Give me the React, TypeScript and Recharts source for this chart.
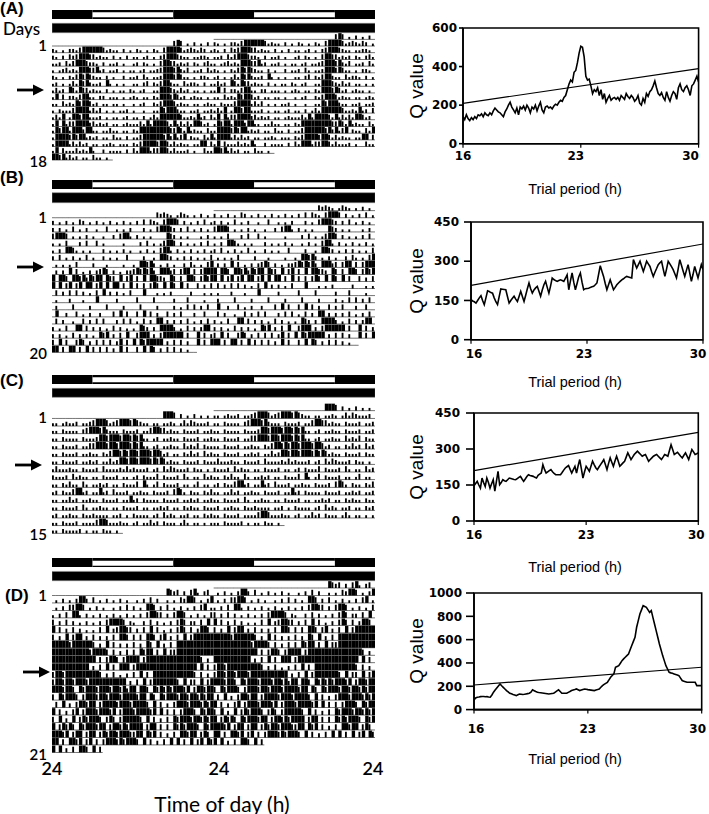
import React from 'react';
import { ScatterChart, Scatter, XAxis, YAxis, ReferenceArea, LineChart, Line } from 'recharts';

// ---------- actogram data: one string per day, 48 half-hour bins, activity level 0-4 ----------
const actoA = [
  '000000 000000 000000 000000 000000 000000 343010 201020',
  '210102 213444 444312 110201 021010 210344 443123 213201',
  '210203 234443 312110 201020 110120 102344 432110 112210',
  '112031 344432 210201 120100 120210 103443 312120 210231',
  '101231 214443 341201 120101 101201 123444 342130 112031',
  '210102 134343 211020 100201 120310 112444 343110 102210',
  '120101 314342 112041 010100 110230 213442 110312 210201',
  '131204 314331 211020 101102 101200 114443 213120 110101',
  '140302 213441 102201 110101 210110 214443 431201 211010',
  '110312 143443 120110 110100 101200 213444 312110 110121',
  '102111 344441 313010 101120 100100 114344 421101 120112',
  '131401 443441 112010 110120 110201 314444 443112 141203',
  '140413 344442 312120 110121 113141 444431 413131 443120',
  '143441 444244 110113 110110 214444 444443 343141 211031',
  '144443 434412 120110 311020 113444 444342 413402 110314',
  '144441 313120 110112 101110 213444 434431 312110 114403',
  '140311 131214 100201 111020 314441 334431 311120 100311',
  '443413 120110 311010',
];

const actoB = [
  '000000 000000 000000 000000 000000 032321 013210 102010',
  '201020 103201 020102 010201 020303 210344 430201 020301',
  '202010 301020 010030 010102 000201 034443 202030 102010',
  '344430 101020 100100 203441 020101 000043 201010 001020',
  '101030 002030 030100 000100 002030 101344 302010 102030',
  '102044 310101 000201 010201 001020 103441 020102 010201',
  '203010 201030 100201 010030 000200 104432 010202 010103',
  '010101 030000 200010 000100 104434 201020 100203 101034',
  '020204 030102 023430 201022 343434 204442 303440 303444',
  '404430 443424 344043 304034 030404 433204 303044 303434',
  '404034 034044 034040 440304 030303 430404 304030 030203',
  '030203 030201 030402 020103 000400 010102 000002 000101',
  '010002 000100 040000 020000 030000 300000 200030 000100',
  '020000 300002 000030 000200 003000 020000 201030 302030',
  '040020 030102 002000 304030 030403 020030 203000 200300',
  '030200 100302 030300 020303 010302 044020 202030 102030',
  '201030 044030 202010 302010 104320 204444 201030 202440',
  '202010 302020 104340 203040 034440 203444 444030 040302',
  '304030 034302 030303 024030 404344 444020 303020 040304',
  '440304 403040 303030 204030 030404 302030 302010 0',
];

const actoC = [
  '000000 000000 000000 000000 000000 000444 302010 201010',
  '110121 120112 344431 234443 432110 110112 101313 211120',
  '110211 110234 443421 110211 120113 443312 110211 120112',
  '110211 110211 124434 443443 434110 120112 110211 120112',
  '110211 120113 344434 434443 434110 120112 110312 130211',
  '110211 120112 110213 443434 434443 443120 110213 120312',
  '110211 120112 120113 124434 434443 434312 110211 120211',
  '131112 110211 120311 112131 211120 120313 211120 211010',
  '211120 312110 110211 120110 120211 130211 120310 110312',
  '110213 110310 112120 110211 130410 130211 120110 130110',
  '120211 344120 114120 311120 112110 211120 343102 110213',
  '110113 120112 110211 120114 120211 110211 120112 120112',
  '110211 120310 112110 110211 120110 112120 110212 110211',
  '120112 110211 211110 112010 211110 120312 101120 110212',
  '110211 120111 134431 112110 120113 120211 101310 110101',
  '110211 112010 110211 010',
];

const actoD = [
  '000000 000000 000000 000000 000000 000043 230203 410230',
  '010201 024420 301020 102010 010203 020010 103244 301024',
  '010203 344301 020100 102030 201044 302030 102010 203401',
  '102030 441020 102010 201020 102034 433020 344301 020103',
  '302030 201020 102034 444302 100203 020102 034302 203040',
  '403020 302010 103040 234433 020304 030102 034303 024430',
  '302040 344020 302020 304430 303044 303402 030403 444444',
  '444443 444444 302040 302020 302043 040203 044444 444444',
  '444444 444443 444430 302030 304344 030403 344444 444444',
  '444444 444444 403034 430344 440344 444444 444444 443020',
  '444444 444440 203040 304440 344444 444444 444444 404030',
  '344344 444444 443020 301020 304030 444444 444444 303020',
  '344344 344434 444444 444402 030403 444444 430403 304034',
  '444344 304344 434443 443424 404430 434343 444340 344344',
  '304344 430344 434434 443444 434404 304344 434434 434344',
  '030402 034434 403444 434443 444430 403020 344434 443434',
  '403020 340344 434443 403444 344443 404030 303444 304344',
  '304020 403434 443034 303444 443040 302030 434443 443434',
  '403434 304344 434403 443434 444034 403030 434344 430434',
  '444340 344034 403434 434443 344043 403020 304434 403430',
  '440304 434034 030344 434344 430403 020304 040304 034043',
  '404020 304430 403',
];

const lightPeriods = [[6, 18], [30, 42]];
const darkPeriods = [[0, 6], [18, 30], [42, 48]];
const timeTicks = ['24', '24', '24'];
// bar height (fraction of the row) for activity levels 0-4
const levelHeight = [0, 0.36, 0.56, 0.76, 0.92];

// ---------- periodogram data: Q value every 0.1 h from 16 to 30 h ----------
const periodTicks = [16, 23, 30];
const qA = [140,
  125, 150, 130, 120, 135, 125, 140, 130, 150, 145,
  155, 140, 160, 150, 145, 160, 150, 170, 185, 175,
  165, 160, 150, 140, 165, 180, 200, 215, 190, 175,
  160, 185, 150, 190, 180, 195, 175, 200, 185, 160,
  190, 180, 200, 170, 195, 215, 175, 160, 190, 195,
  185, 190, 180, 195, 205, 200, 215, 225, 220, 240,
  250, 280, 310, 330, 320, 370, 380, 420, 470, 505,
  500, 450, 350, 330, 335, 300, 260, 280, 270, 290,
  250, 280, 230, 260, 215, 235, 250, 225, 235, 240,
  230, 240, 225, 250, 240, 230, 260, 245, 235, 250,
  240, 220, 230, 250, 210, 200, 235, 215, 260, 245,
  270, 280, 300, 325, 290, 260, 250, 265, 240, 225,
  270, 240, 220, 250, 270, 260, 230, 290, 310, 280,
  270, 290, 300, 280, 250, 300, 310, 330, 350, 320];
const qB = [153,
  148, 145, 140, 150, 160, 168, 150, 134, 160, 187,
  184, 180, 178, 160, 145, 134, 165, 194, 193, 192,
  191, 165, 140, 150, 158, 166, 155, 146, 165, 185,
  165, 146, 170, 195, 217, 195, 178, 190, 198, 204,
  185, 166, 190, 210, 223, 200, 178, 205, 236, 230,
  226, 223, 226, 229, 226, 223, 235, 248, 191, 225,
  255, 220, 191, 215, 240, 255, 220, 191, 195, 196,
  197, 200, 202, 204, 210, 217, 250, 283, 262, 242,
  215, 191, 210, 229, 210, 191, 200, 210, 217, 223,
  229, 233, 238, 242, 240, 238, 236, 306, 290, 274,
  287, 300, 280, 261, 280, 300, 290, 280, 260, 242,
  258, 272, 287, 294, 300, 270, 242, 270, 300, 290,
  279, 268, 252, 236, 270, 306, 285, 263, 242, 265,
  287, 255, 223, 250, 280, 258, 236, 262, 287, 268];
const qC = [147,
  156, 165, 150, 137, 179, 160, 144, 179, 160, 137,
  155, 172, 124, 165, 207, 151, 160, 172, 168, 165,
  172, 179, 177, 175, 173, 172, 177, 182, 186, 175,
  165, 175, 185, 193, 190, 188, 186, 182, 179, 190,
  195, 200, 235, 215, 200, 205, 210, 214, 205, 198,
  193, 193, 193, 193, 202, 212, 221, 226, 231, 215,
  200, 214, 228, 200, 230, 256, 218, 179, 205, 228,
  218, 207, 228, 249, 235, 222, 214, 225, 235, 245,
  256, 235, 214, 240, 263, 245, 228, 250, 270, 250,
  228, 235, 242, 249, 266, 284, 270, 256, 266, 277,
  284, 291, 284, 277, 270, 274, 277, 263, 249, 256,
  263, 270, 274, 277, 270, 263, 256, 266, 277, 274,
  270, 294, 318, 298, 277, 282, 286, 278, 270, 263,
  274, 284, 270, 256, 277, 298, 288, 277, 280, 284];
const qD = [83,
  100, 106, 108, 111, 112, 112, 110, 111, 108, 106,
  125, 149, 168, 186, 203, 220, 205, 191, 177, 163,
  152, 140, 135, 129, 125, 120, 127, 134, 132, 129,
  131, 134, 137, 140, 150, 169, 162, 155, 149, 146,
  144, 142, 140, 138, 136, 134, 136, 138, 140, 150,
  160, 169, 155, 140, 140, 140, 140, 148, 155, 163,
  168, 172, 177, 170, 163, 168, 173, 177, 174, 171,
  169, 167, 165, 163, 168, 172, 177, 192, 206, 216,
  225, 234, 255, 277, 292, 306, 363, 370, 377, 398,
  420, 435, 449, 463, 477, 513, 549, 585, 620, 706,
  763, 820, 855, 891, 884, 877, 855, 834, 849, 791,
  734, 677, 620, 563, 513, 463, 420, 377, 348, 320,
  315, 311, 306, 301, 296, 291, 270, 249, 244, 239,
  234, 234, 234, 234, 234, 234, 206, 206, 206, 206];
// significance line, Q at 16 h and at 30 h
const sigA = [209, 389];
const sigB = [208, 366];
const sigC = [210, 369];
const sigD = [211, 363];

const ticksA = [0, 200, 400, 600];
const ticksBC = [0, 150, 300, 450];
const ticksD = [0, 200, 400, 600, 800, 1000];

const SANS = '"Liberation Sans", Arial, sans-serif';
const CAL = 'Lato, "Open Sans", sans-serif';
const TICK = '"DejaVu Sans", sans-serif';

const ACT_LEFT = 51.7;
const ACT_W = 323.3;

function buildPoints(days: string[]) {
  const pts: { x: number; y: number; v: number }[] = [];
  days.forEach((raw, d) => {
    const s = raw.replace(/ /g, '');
    for (let b = 0; b < s.length; b++) {
      const v = Number(s[b]);
      const h = (b + 0.5) / 2;
      pts.push({ x: 24 + h, y: d, v });      // right half of the previous row
      pts.push({ x: h, y: d + 1, v });       // left half of its own row
    }
  });
  return pts;
}

function Text({ x, y, children, size, weight = 400, family = CAL, anchor = 'middle', rotate = false }: any) {
  const tx = anchor === 'end' ? '-100%' : anchor === 'start' ? '0' : '-50%';
  return (
    <div style={{
      position: 'absolute', left: x, top: y, fontSize: size, fontWeight: weight, fontFamily: family,
      lineHeight: 1, whiteSpace: 'nowrap', color: '#000',
      transform: `translate(${tx}, -50%)${rotate ? ' rotate(-90deg)' : ''}`,
    }}>{children}</div>
  );
}

function Arrow({ x, y }: { x: number; y: number }) {
  return (
    <svg style={{ position: 'absolute', left: x, top: y - 6 }} width={28} height={12}>
      <rect x={0} y={4.6} width={18} height={2.8} fill="#000" />
      <polygon points="16,0.5 27,6 16,11.5" fill="#000" />
    </svg>
  );
}

function Actogram({ days, ld, white, dd, row0, rowN }: any) {
  const n = days.length;
  const sp = (rowN - row0) / n;
  const top = ld[0];
  const H = rowN + 2 - top;
  const yMin = (top - row0) / sp;
  const yMax = n + 2 / sp;
  const toRow = (px: number) => (px - row0) / sp;
  const pts = buildPoints(days);
  const bw = ACT_W / 96;
  const shape = (p: any) => {
    const { cx, cy, payload } = p;
    const v = payload.v;
    const h = levelHeight[v] * sp;
    const w = v >= 4 ? bw : bw * 0.55;
    return (
      <g>
        <rect x={cx - bw / 2} y={cy - 0.4} width={bw + 0.15} height={0.8} fill="#555" />
        {h > 0 && <rect x={cx - bw / 2} y={cy - h} width={w} height={h} fill="#000" />}
      </g>
    );
  };
  return (
    <div style={{ position: 'absolute', left: ACT_LEFT, top }}>
      <ScatterChart width={ACT_W} height={H} margin={{ top: 0, right: 0, bottom: 0, left: 0 }}>
        <XAxis type="number" dataKey="x" domain={[0, 48]} hide allowDataOverflow />
        <YAxis type="number" dataKey="y" domain={[yMin, yMax]} reversed hide allowDataOverflow />
        {darkPeriods.map(([a, b], i) => (
          <ReferenceArea key={'d' + i} x1={a} x2={b} y1={toRow(ld[0])} y2={toRow(ld[1])} fill="#000" fillOpacity={1} stroke="none" />
        ))}
        {lightPeriods.map(([a, b], i) => (
          <ReferenceArea key={'lt' + i} x1={a} x2={b} y1={toRow(ld[0])} y2={toRow(white[0])} fill="#000" fillOpacity={1} stroke="none" />
        ))}
        {lightPeriods.map(([a, b], i) => (
          <ReferenceArea key={'lb' + i} x1={a} x2={b} y1={toRow(white[1])} y2={toRow(ld[1])} fill="#000" fillOpacity={1} stroke="none" />
        ))}
        <ReferenceArea x1={0} x2={48} y1={toRow(dd[0])} y2={toRow(dd[1])} fill="#000" fillOpacity={1} stroke="#888" strokeWidth={0.6} />
        <Scatter data={pts} shape={shape} isAnimationActive={false} />
      </ScatterChart>
    </div>
  );
}

function Periodogram({ q, sig, yMax, yTicks, box, yTick, yGap, xGap, labelY, shifts }: any) {
  const data = q.map((v: number, i: number) => ({ p: 16 + i * 0.1, q: v }));
  const sigData = [{ p: 16, s: sig[0] }, { p: 30, s: sig[1] }];
  const [pl, pt, pr, pb] = box;
  const yw = 52, mt = 6, mr = 12, xh = 36;
  const left = pl - yw, top = pt - mt;
  const width = pr - left + mr, height = mt + (pb - pt) + xh;
  const tickStyle = { fontFamily: TICK, fontSize: 12, fontWeight: 'bold', fill: '#000' };
  const xTick = (t: any) => {
    const i = periodTicks.indexOf(t.payload.value);
    return (
      <text x={t.x + (shifts[i] || 0)} y={t.y} dy="0.71em" textAnchor="middle" style={tickStyle}>
        {t.payload.value}
      </text>
    );
  };
  return (
    <>
      <div style={{ position: 'absolute', left, top }}>
        <LineChart width={width} height={height} margin={{ top: mt, right: mr, bottom: 0, left: 0 }}>
          <XAxis type="number" dataKey="p" domain={[16, 30]} ticks={periodTicks} interval={0} height={xh}
            tick={xTick} tickSize={4} tickMargin={xGap} axisLine={{ stroke: '#000', strokeWidth: 1.6 }}
            tickLine={{ stroke: '#000', strokeWidth: 1.2 }} allowDataOverflow />
          <YAxis type="number" domain={[0, yMax]} ticks={yTicks} interval={0} width={yw}
            tick={tickStyle} tickSize={yTick} tickMargin={yGap} axisLine={{ stroke: '#000', strokeWidth: 1.6 }}
            tickLine={{ stroke: '#000', strokeWidth: 1.6 }} allowDataOverflow />
          <ReferenceArea x1={16} x2={30} y1={0} y2={yMax} fill="none" stroke="#000" strokeWidth={1.6} />
          <Line data={sigData} dataKey="s" stroke="#000" strokeWidth={1.2} dot={false} isAnimationActive={false} />
          <Line data={data} dataKey="q" stroke="#000" strokeWidth={1.6} dot={false} isAnimationActive={false} />
        </LineChart>
      </div>
      <Text x={416} y={(pt + pb) / 2} size={19} family={SANS} rotate>Q value</Text>
      <Text x={575} y={labelY} size={14.5} family={SANS}>Trial period (h)</Text>
    </>
  );
}

const panels = [
  { tag: '(A)', tagX: 0, tagY: 8, days: actoA, ld: [10, 19], white: [12.3, 17.3], dd: [23.3, 32.7], row0: 39.3, rowN: 160, arrow: [17, 90], last: '18' },
  { tag: '(B)', tagX: 0, tagY: 176.5, days: actoB, ld: [180, 189], white: [182.3, 187.3], dd: [192.7, 202.7], row0: 210.7, rowN: 352.3, arrow: [17, 266.7], last: '20' },
  { tag: '(C)', tagX: 0, tagY: 379.5, days: actoC, ld: [375, 384], white: [377.3, 382.3], dd: [388.3, 397.3], row0: 410.7, rowN: 533.3, arrow: [15, 465], last: '15' },
  { tag: '(D)', tagX: 5, tagY: 595, days: actoD, ld: [558.3, 567.3], white: [561, 566], dd: [571.7, 581], row0: 588.3, rowN: 752.7, arrow: [23, 671.7], last: '21' },
];

export default function App() {
  return (
    <div style={{ position: 'absolute', left: 0, top: 0, width: 709, height: 814, background: '#fff', overflow: 'hidden' }}>
      {panels.map((p) => {
        const sp = (p.rowN - p.row0) / p.days.length;
        return (
          <React.Fragment key={p.tag}>
            <Actogram days={p.days} ld={p.ld} white={p.white} dd={p.dd} row0={p.row0} rowN={p.rowN} />
            <Text x={p.tagX} y={p.tagY} size={17} weight={700} family={SANS} anchor="start">{p.tag}</Text>
            <Text x={47} y={p.row0 + sp - 1} size={15} weight={600} anchor="end">1</Text>
            <Text x={47} y={p.rowN + 1} size={15} weight={600} anchor="end">{p.last}</Text>
            <Arrow x={p.arrow[0]} y={p.arrow[1]} />
          </React.Fragment>
        );
      })}
      <Text x={3} y={28} size={17} weight={500} anchor="start">Days</Text>

      <Periodogram q={qA} sig={sigA} yMax={600} yTicks={ticksA} box={[462.7, 28.3, 698.3, 144]} yTick={4} yGap={2} xGap={4} labelY={189} shifts={[0, -5, -8]} />
      <Periodogram q={qB} sig={sigB} yMax={450} yTicks={ticksBC} box={[470.7, 222.3, 702.7, 340]} yTick={7} yGap={5} xGap={6} labelY={382} shifts={[3, -3, -5]} />
      <Periodogram q={qC} sig={sigC} yMax={450} yTicks={ticksBC} box={[474, 413.3, 698.3, 521.3]} yTick={8} yGap={6} xGap={5} labelY={567} shifts={[0, 0, -2]} />
      <Periodogram q={qD} sig={sigD} yMax={1000} yTicks={ticksD} box={[474, 592.7, 701.7, 709.3]} yTick={8} yGap={4} xGap={11} labelY={759} shifts={[2, 0, -4]} />

      {timeTicks.map((t, i) => (
        <Text key={i} x={[52, 219, 373][i]} y={768} size={18} weight={600}>{t}</Text>
      ))}
      <Text x={222} y={803} size={21}>Time of day (h)</Text>
    </div>
  );
}
